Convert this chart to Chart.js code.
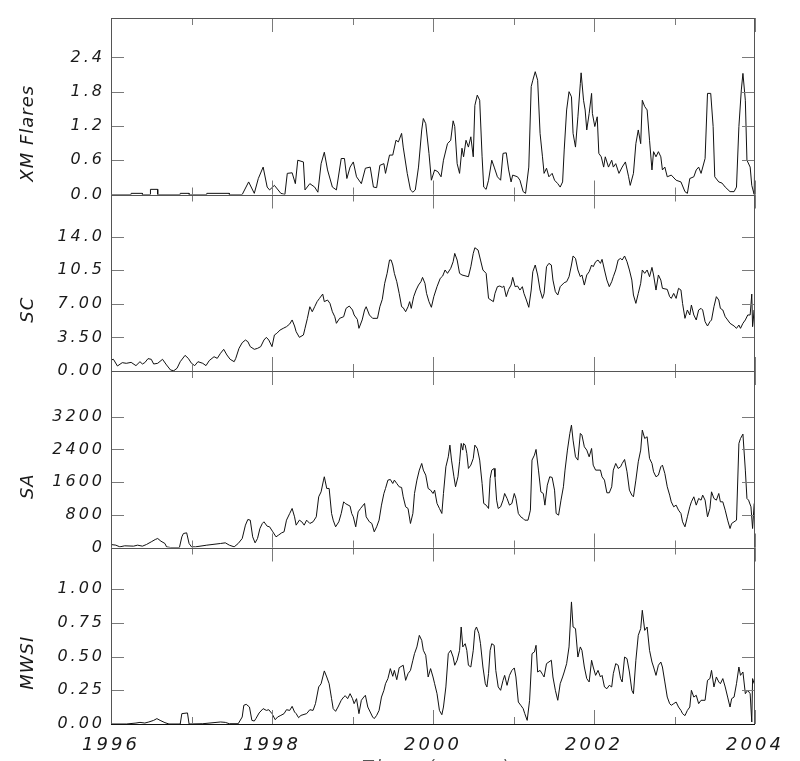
<!DOCTYPE html>
<html>
<head>
<meta charset="utf-8">
<title>XM flares, SC, SA and MWSI, 1996-2004</title>
<script src="https://cdn.jsdelivr.net/npm/chart.js@4.4.1/dist/chart.umd.min.js"></script>
<style>
  html, body { margin: 0; padding: 0; background: #fff; }
  canvas { display: block; }
</style>
</head>
<body>
<canvas id="chart" width="800" height="761"></canvas>
<script>
// shared time axis
const yearTicks = [1996, 1998, 2000, 2002, 2004];
const yearMarks = [1996, 1997, 1998, 1999, 2000, 2001, 2002, 2003, 2004];
const xTitle = 'Time (years)';

// XM flares
const xmYears = [
  1996.00, 1996.25, 1996.25, 1996.39, 1996.39, 1996.49, 1996.49, 1996.58, 1996.58, 1996.86,
  1996.86, 1996.97, 1996.97, 1997.19, 1997.19, 1997.47, 1997.47, 1997.63, 1997.71, 1997.78,
  1997.83, 1997.89, 1997.94, 1997.97, 1998.03, 1998.11, 1998.16, 1998.19, 1998.25, 1998.29,
  1998.32, 1998.39, 1998.41, 1998.47, 1998.53, 1998.57, 1998.61, 1998.65, 1998.69, 1998.75,
  1998.80, 1998.86, 1998.90, 1998.93, 1998.97, 1999.01, 1999.05, 1999.11, 1999.16, 1999.22,
  1999.26, 1999.30, 1999.34, 1999.39, 1999.41, 1999.46, 1999.50, 1999.54, 1999.57, 1999.61,
  1999.63, 1999.68, 1999.72, 1999.75, 1999.78, 1999.82, 1999.86, 1999.88, 1999.91, 1999.95,
  1999.98, 2000.02, 2000.06, 2000.10, 2000.13, 2000.18, 2000.22, 2000.25, 2000.27, 2000.30,
  2000.33, 2000.36, 2000.38, 2000.41, 2000.44, 2000.47, 2000.50, 2000.52, 2000.55, 2000.58,
  2000.61, 2000.63, 2000.66, 2000.69, 2000.73, 2000.76, 2000.80, 2000.84, 2000.87, 2000.91,
  2000.94, 2000.97, 2000.99, 2001.05, 2001.08, 2001.12, 2001.15, 2001.19, 2001.22, 2001.24,
  2001.27, 2001.30, 2001.33, 2001.36, 2001.38, 2001.41, 2001.44, 2001.48, 2001.51, 2001.55,
  2001.58, 2001.61, 2001.63, 2001.66, 2001.69, 2001.72, 2001.74, 2001.77, 2001.80, 2001.83,
  2001.84, 2001.87, 2001.89, 2001.91, 2001.94, 2001.97, 2001.98, 2002.01, 2002.04, 2002.06,
  2002.09, 2002.12, 2002.14, 2002.18, 2002.22, 2002.24, 2002.27, 2002.31, 2002.35, 2002.39,
  2002.43, 2002.45, 2002.49, 2002.52, 2002.55, 2002.58, 2002.60, 2002.63, 2002.66, 2002.69,
  2002.72, 2002.74, 2002.77, 2002.80, 2002.83, 2002.85, 2002.88, 2002.91, 2002.96, 2003.02,
  2003.08, 2003.13, 2003.16, 2003.19, 2003.24, 2003.27, 2003.30, 2003.33, 2003.38, 2003.41,
  2003.45, 2003.48, 2003.50, 2003.55, 2003.59, 2003.63, 2003.69, 2003.74, 2003.77, 2003.80,
  2003.83, 2003.85, 2003.88, 2003.90, 2003.94, 2003.96, 2003.99, 2004.00
];
const xmValues = [
  0, 0, 0.02, 0.02, 0, 0, 0.09, 0.09, 0, 0,
  0.02, 0.02, 0, 0, 0.02, 0.02, 0, 0, 0.22, 0.02,
  0.28, 0.48, 0.13, 0.08, 0.16, 0.02, 0, 0.37, 0.38, 0.19,
  0.60, 0.57, 0.08, 0.19, 0.13, 0.04, 0.54, 0.74, 0.43, 0.13,
  0.08, 0.63, 0.63, 0.28, 0.48, 0.57, 0.31, 0.19, 0.46, 0.48,
  0.13, 0.12, 0.51, 0.54, 0.37, 0.69, 0.69, 0.95, 0.92, 1.07,
  0.83, 0.37, 0.08, 0.04, 0.08, 0.48, 1.13, 1.33, 1.24, 0.72,
  0.25, 0.43, 0.40, 0.31, 0.60, 0.89, 0.95, 1.29, 1.19, 0.54,
  0.37, 0.81, 0.66, 0.95, 0.83, 1.01, 0.66, 1.56, 1.74, 1.65,
  0.66, 0.13, 0.09, 0.25, 0.60, 0.48, 0.31, 0.25, 0.72, 0.73,
  0.43, 0.22, 0.34, 0.31, 0.25, 0.05, 0.02, 0.48, 1.89, 2.00,
  2.15, 2.00, 1.07, 0.66, 0.37, 0.46, 0.31, 0.37, 0.25, 0.19,
  0.13, 0.22, 0.78, 1.48, 1.80, 1.71, 1.07, 0.83, 1.36, 1.94,
  2.13, 1.65, 1.48, 1.13, 1.42, 1.77, 1.42, 1.19, 1.36, 0.72,
  0.66, 0.48, 0.66, 0.48, 0.60, 0.48, 0.54, 0.37, 0.48, 0.57,
  0.31, 0.16, 0.37, 0.89, 1.13, 0.89, 1.65, 1.54, 1.48, 0.95,
  0.43, 0.75, 0.66, 0.75, 0.66, 0.43, 0.48, 0.31, 0.34, 0.25,
  0.22, 0.05, 0.02, 0.28, 0.31, 0.43, 0.48, 0.37, 0.63, 1.77,
  1.77, 1.19, 0.31, 0.22, 0.20, 0.13, 0.05, 0.05, 0.13, 1.19,
  1.83, 2.12, 1.65, 0.60, 0.48, 0.16, 0, 1.01
];
const xmTicks = [0, 0.6, 1.2, 1.8, 2.4];
const xmTickLabels = ['0.0', '0.6', '1.2', '1.8', '2.4'];
const xmMax = 3.09;

// SC
const scYears = [
  1996.00, 1996.03, 1996.08, 1996.14, 1996.19, 1996.25, 1996.31, 1996.36, 1996.39, 1996.42,
  1996.46, 1996.50, 1996.53, 1996.58, 1996.64, 1996.69, 1996.74, 1996.78, 1996.82, 1996.86,
  1996.92, 1996.96, 1997.00, 1997.04, 1997.08, 1997.14, 1997.18, 1997.22, 1997.28, 1997.32,
  1997.36, 1997.40, 1997.44, 1997.48, 1997.53, 1997.55, 1997.59, 1997.63, 1997.67, 1997.70,
  1997.73, 1997.78, 1997.82, 1997.86, 1997.90, 1997.93, 1997.96, 1998.00, 1998.03, 1998.06,
  1998.10, 1998.14, 1998.18, 1998.22, 1998.25, 1998.28, 1998.30, 1998.34, 1998.39, 1998.41,
  1998.44, 1998.47, 1998.50, 1998.53, 1998.56, 1998.59, 1998.63, 1998.65, 1998.69, 1998.72,
  1998.75, 1998.78, 1998.80, 1998.84, 1998.89, 1998.92, 1998.96, 1999.00, 1999.02, 1999.06,
  1999.08, 1999.12, 1999.15, 1999.17, 1999.21, 1999.25, 1999.31, 1999.34, 1999.37, 1999.40,
  1999.43, 1999.46, 1999.48, 1999.50, 1999.52, 1999.55, 1999.58, 1999.61, 1999.63, 1999.66,
  1999.69, 1999.71, 1999.73, 1999.76, 1999.79, 1999.82, 1999.85, 1999.87, 1999.90, 1999.92,
  1999.95, 1999.98, 2000.01, 2000.05, 2000.09, 2000.12, 2000.15, 2000.18, 2000.22, 2000.25,
  2000.27, 2000.30, 2000.33, 2000.36, 2000.44, 2000.47, 2000.50, 2000.52, 2000.56, 2000.59,
  2000.62, 2000.66, 2000.69, 2000.72, 2000.75, 2000.77, 2000.80, 2000.83, 2000.86, 2000.88,
  2000.91, 2000.94, 2000.97, 2000.99, 2001.02, 2001.05, 2001.08, 2001.11, 2001.13, 2001.16,
  2001.19, 2001.22, 2001.24, 2001.27, 2001.30, 2001.33, 2001.36, 2001.38, 2001.41, 2001.44,
  2001.47, 2001.49, 2001.52, 2001.55, 2001.58, 2001.63, 2001.66, 2001.69, 2001.72, 2001.74,
  2001.77, 2001.80, 2001.83, 2001.85, 2001.88, 2001.91, 2001.94, 2001.97, 2001.99, 2002.02,
  2002.05, 2002.08, 2002.10, 2002.13, 2002.16, 2002.19, 2002.22, 2002.24, 2002.27, 2002.30,
  2002.33, 2002.35, 2002.38, 2002.41, 2002.44, 2002.47, 2002.49, 2002.52, 2002.55, 2002.58,
  2002.60, 2002.63, 2002.66, 2002.69, 2002.72, 2002.74, 2002.77, 2002.80, 2002.83, 2002.85,
  2002.91, 2002.94, 2002.96, 2002.99, 2003.02, 2003.05, 2003.08, 2003.10, 2003.13, 2003.16,
  2003.19, 2003.21, 2003.24, 2003.27, 2003.30, 2003.33, 2003.35, 2003.38, 2003.41, 2003.44,
  2003.46, 2003.49, 2003.52, 2003.55, 2003.57, 2003.60, 2003.63, 2003.66, 2003.69, 2003.74,
  2003.77, 2003.80, 2003.82, 2003.85, 2003.88, 2003.91, 2003.94, 2003.96, 2003.97, 2003.99,
  2004.00
];
const scValues = [
  1.15, 1.22, 0.52, 0.87, 0.80, 0.90, 0.56, 0.97, 0.73, 0.87,
  1.29, 1.22, 0.73, 0.80, 1.22, 0.63, 0.10, 0.03, 0.28, 0.97,
  1.63, 1.32, 0.80, 0.56, 0.97, 0.80, 0.56, 1.08, 1.49, 1.32,
  1.84, 2.26, 1.67, 1.22, 0.97, 1.32, 2.36, 2.95, 3.23, 3.06,
  2.54, 2.26, 2.36, 2.54, 3.23, 3.51, 3.23, 2.54, 3.75, 3.93,
  4.27, 4.45, 4.62, 4.90, 5.32, 4.69, 4.10, 3.51, 3.75, 4.45,
  5.49, 6.70, 6.18, 6.70, 7.23, 7.57, 8.02, 7.23, 7.40, 7.05,
  6.18, 5.66, 4.97, 5.49, 5.66, 6.53, 6.77, 6.36, 5.84, 5.38,
  4.45, 5.32, 6.36, 6.70, 5.84, 5.49, 5.49, 6.70, 7.47, 9.14,
  10.18, 11.57, 11.57, 11.05, 10.18, 9.31, 8.09, 6.70, 6.60, 6.18,
  6.70, 7.23, 6.53, 7.75, 8.44, 8.96, 9.31, 9.76, 9.14, 8.09,
  7.23, 6.64, 7.75, 8.79, 9.66, 9.90, 10.53, 10.18, 10.70, 11.39,
  12.26, 11.57, 10.18, 10.01, 9.83, 10.87, 12.26, 12.85, 12.61, 11.57,
  10.53, 10.18, 7.57, 7.40, 7.23, 8.09, 8.79, 8.86, 8.72, 8.86,
  7.75, 8.51, 8.96, 9.76, 8.79, 8.86, 8.44, 8.79, 8.09, 7.40,
  6.64, 8.44, 10.35, 11.05, 10.01, 8.44, 7.57, 8.09, 10.87, 11.22,
  11.05, 9.48, 8.27, 7.92, 8.79, 9.21, 9.31, 9.83, 11.05, 11.99,
  11.74, 10.53, 9.83, 10.01, 8.96, 10.01, 10.35, 11.05, 10.87, 11.39,
  11.57, 11.22, 11.64, 10.53, 9.48, 8.79, 9.31, 9.83, 10.53, 11.57,
  11.74, 11.57, 11.99, 11.39, 10.53, 9.48, 7.92, 7.05, 8.09, 9.14,
  10.53, 10.18, 10.53, 9.83, 10.80, 10.01, 8.44, 10.01, 9.48, 8.62,
  8.51, 7.75, 7.57, 8.09, 7.57, 8.62, 8.44, 7.05, 5.49, 6.36,
  5.84, 6.88, 5.84, 5.32, 6.36, 6.53, 6.36, 5.14, 4.69, 5.14,
  5.32, 6.70, 7.75, 7.40, 6.53, 6.36, 5.66, 5.32, 4.97, 4.69,
  4.45, 4.79, 4.45, 4.97, 5.32, 5.84, 5.84, 8.02, 4.62, 6.36,
  1.84
];
const scTicks = [0, 3.5, 7, 10.5, 14];
const scTickLabels = ['0.00', '3.50', '7.00', '10.5', '14.0'];
const scMax = 18.4;

// SA
const saYears = [
  1996.00, 1996.06, 1996.11, 1996.17, 1996.28, 1996.33, 1996.39, 1996.44, 1996.50, 1996.55,
  1996.58, 1996.62, 1996.67, 1996.69, 1996.74, 1996.85, 1996.88, 1996.90, 1996.94, 1996.97,
  1997.00, 1997.05, 1997.19, 1997.36, 1997.42, 1997.47, 1997.53, 1997.58, 1997.63, 1997.67,
  1997.70, 1997.73, 1997.76, 1997.79, 1997.82, 1997.85, 1997.88, 1997.90, 1997.94, 1997.97,
  1998.01, 1998.05, 1998.08, 1998.12, 1998.15, 1998.18, 1998.22, 1998.25, 1998.28, 1998.30,
  1998.34, 1998.37, 1998.40, 1998.43, 1998.47, 1998.51, 1998.55, 1998.58, 1998.61, 1998.64,
  1998.65, 1998.68, 1998.71, 1998.74, 1998.76, 1998.79, 1998.83, 1998.86, 1998.89, 1998.91,
  1998.97, 1998.99, 1999.01, 1999.04, 1999.07, 1999.10, 1999.15, 1999.17, 1999.21, 1999.24,
  1999.27, 1999.30, 1999.33, 1999.36, 1999.39, 1999.41, 1999.44, 1999.47, 1999.50, 1999.52,
  1999.55, 1999.58, 1999.61, 1999.63, 1999.66, 1999.69, 1999.72, 1999.75, 1999.77, 1999.80,
  1999.83, 1999.86, 1999.88, 1999.91, 1999.94, 1999.97, 2000.00, 2000.02, 2000.05, 2000.08,
  2000.11, 2000.13, 2000.16, 2000.19, 2000.21, 2000.23, 2000.26, 2000.28, 2000.31, 2000.33,
  2000.35, 2000.37, 2000.38, 2000.40, 2000.42, 2000.44, 2000.47, 2000.50, 2000.52, 2000.55,
  2000.58, 2000.61, 2000.63, 2000.66, 2000.69, 2000.71, 2000.73, 2000.76, 2000.77, 2000.79,
  2000.81, 2000.84, 2000.87, 2000.89, 2000.92, 2000.95, 2000.98, 2001.01, 2001.03, 2001.06,
  2001.09, 2001.12, 2001.14, 2001.18, 2001.21, 2001.23, 2001.26, 2001.28, 2001.31, 2001.34,
  2001.37, 2001.39, 2001.42, 2001.45, 2001.48, 2001.51, 2001.53, 2001.56, 2001.59, 2001.62,
  2001.64, 2001.67, 2001.70, 2001.72, 2001.74, 2001.77, 2001.80, 2001.83, 2001.85, 2001.88,
  2001.91, 2001.94, 2001.97, 2001.99, 2002.02, 2002.08, 2002.10, 2002.13, 2002.16, 2002.19,
  2002.22, 2002.24, 2002.27, 2002.30, 2002.33, 2002.35, 2002.38, 2002.41, 2002.44, 2002.47,
  2002.49, 2002.52, 2002.55, 2002.58, 2002.60, 2002.63, 2002.66, 2002.69, 2002.72, 2002.74,
  2002.77, 2002.80, 2002.83, 2002.85, 2002.88, 2002.91, 2002.94, 2002.96, 2002.99, 2003.02,
  2003.05, 2003.08, 2003.10, 2003.13, 2003.16, 2003.19, 2003.21, 2003.24, 2003.27, 2003.30,
  2003.33, 2003.35, 2003.38, 2003.41, 2003.44, 2003.46, 2003.49, 2003.52, 2003.55, 2003.57,
  2003.60, 2003.63, 2003.66, 2003.69, 2003.71, 2003.77, 2003.80, 2003.82, 2003.85, 2003.88,
  2003.90, 2003.92, 2003.95, 2003.97, 2003.99
];
const saValues = [
  73, 57, 16, 41, 33, 57, 33, 73, 139, 196,
  220, 155, 98, 16, 0, 0, 261, 343, 359, 98,
  16, 16, 57, 98, 114, 57, 16, 98, 220, 547,
  686, 669, 261, 114, 220, 465, 588, 629, 522, 506,
  384, 261, 302, 359, 384, 669, 833, 955, 751, 547,
  669, 629, 547, 669, 588, 629, 751, 1241, 1363, 1649,
  1731, 1445, 1445, 833, 669, 506, 629, 833, 1118, 1078,
  1012, 833, 751, 506, 873, 955, 1078, 751, 629, 588,
  384, 506, 669, 1037, 1322, 1445, 1649, 1665, 1567, 1649,
  1567, 1486, 1469, 1241, 996, 955, 588, 833, 1322, 1649,
  1894, 2057, 1894, 1771, 1445, 1404, 1322, 1404, 1078, 955,
  833, 1322, 1975, 2220, 2506, 2139, 1731, 1486, 1731, 2098,
  2547, 2384, 2547, 2506, 2302, 1935, 2016, 2180, 2506, 2424,
  2139, 1567, 1078, 1037, 955, 1690, 1894, 1935, 1731, 1159,
  955, 996, 1159, 1322, 1200, 1037, 1078, 1322, 1200, 833,
  751, 710, 669, 669, 914, 2139, 2261, 2400, 1894, 1363,
  1322, 1037, 1526, 1731, 1714, 1404, 833, 792, 1159, 1486,
  1894, 2384, 2792, 2996, 2628, 2220, 2139, 2792, 2751, 2465,
  2384, 2220, 2424, 2016, 1894, 1894, 1731, 1649, 1339, 1339,
  1486, 1894, 2057, 1935, 1975, 2057, 2155, 1853, 1404, 1282,
  1241, 1649, 2098, 2384, 2873, 2669, 2710, 2180, 2057, 1853,
  1731, 1771, 1975, 2016, 1812, 1486, 1282, 1118, 996, 1037,
  914, 833, 629, 506, 751, 996, 1118, 1241, 1037, 1200,
  1159, 1282, 1159, 751, 955, 1363, 1200, 1159, 1322, 1118,
  1118, 914, 669, 465, 588, 669, 2547, 2669, 2775, 1894,
  1200, 1159, 996, 465, 1078
];
const saTicks = [0, 800, 1600, 2400, 3200];
const saTickLabels = ['0', '800', '1600', '2400', '3200'];
const saMax = 4320;

// MWSI
const mwYears = [
  1996.00, 1996.19, 1996.31, 1996.36, 1996.42, 1996.47, 1996.53, 1996.57, 1996.61, 1996.67,
  1996.72, 1996.86, 1996.88, 1996.95, 1996.97, 1997.14, 1997.36, 1997.42, 1997.47, 1997.58,
  1997.63, 1997.65, 1997.68, 1997.72, 1997.75, 1997.78, 1997.80, 1997.84, 1997.89, 1997.93,
  1997.96, 1998.00, 1998.04, 1998.07, 1998.11, 1998.15, 1998.18, 1998.22, 1998.25, 1998.28,
  1998.30, 1998.33, 1998.36, 1998.43, 1998.47, 1998.51, 1998.54, 1998.58, 1998.61, 1998.65,
  1998.68, 1998.71, 1998.74, 1998.76, 1998.79, 1998.82, 1998.86, 1998.89, 1998.91, 1998.94,
  1998.97, 1999.00, 1999.02, 1999.05, 1999.08, 1999.11, 1999.14, 1999.16, 1999.19, 1999.22,
  1999.25, 1999.27, 1999.30, 1999.33, 1999.36, 1999.39, 1999.41, 1999.44, 1999.47, 1999.50,
  1999.52, 1999.55, 1999.58, 1999.63, 1999.66, 1999.69, 1999.72, 1999.75, 1999.77, 1999.80,
  1999.83, 1999.86, 1999.88, 1999.91, 1999.94, 1999.97, 2000.00, 2000.02, 2000.05, 2000.08,
  2000.11, 2000.13, 2000.16, 2000.19, 2000.22, 2000.25, 2000.27, 2000.30, 2000.33, 2000.35,
  2000.37, 2000.40, 2000.42, 2000.44, 2000.47, 2000.50, 2000.52, 2000.54, 2000.57, 2000.59,
  2000.62, 2000.65, 2000.67, 2000.69, 2000.71, 2000.73, 2000.76, 2000.78, 2000.81, 2000.84,
  2000.87, 2000.89, 2000.92, 2000.95, 2000.98, 2001.01, 2001.03, 2001.06, 2001.09, 2001.12,
  2001.14, 2001.17, 2001.20, 2001.23, 2001.26, 2001.28, 2001.30, 2001.33, 2001.36, 2001.38,
  2001.41, 2001.47, 2001.49, 2001.52, 2001.55, 2001.58, 2001.61, 2001.63, 2001.66, 2001.69,
  2001.72, 2001.74, 2001.77, 2001.80, 2001.83, 2001.85, 2001.88, 2001.91, 2001.94, 2001.97,
  2001.99, 2002.02, 2002.05, 2002.08, 2002.10, 2002.13, 2002.16, 2002.19, 2002.22, 2002.24,
  2002.27, 2002.30, 2002.33, 2002.35, 2002.38, 2002.41, 2002.44, 2002.47, 2002.49, 2002.52,
  2002.55, 2002.58, 2002.60, 2002.63, 2002.66, 2002.69, 2002.72, 2002.74, 2002.77, 2002.80,
  2002.83, 2002.85, 2002.88, 2002.91, 2002.94, 2002.96, 2002.99, 2003.02, 2003.05, 2003.08,
  2003.10, 2003.13, 2003.16, 2003.19, 2003.21, 2003.24, 2003.27, 2003.30, 2003.33, 2003.38,
  2003.41, 2003.44, 2003.46, 2003.49, 2003.52, 2003.55, 2003.57, 2003.60, 2003.63, 2003.66,
  2003.69, 2003.71, 2003.74, 2003.77, 2003.80, 2003.82, 2003.85, 2003.88, 2003.91, 2003.94,
  2003.96, 2003.97, 2003.99
];
const mwValues = [
  0, 0, 0.007, 0.012, 0.007, 0.015, 0.027, 0.040, 0.027, 0.010,
  0, 0, 0.077, 0.082, 0, 0.002, 0.015, 0.012, 0.002, 0.002,
  0.052, 0.139, 0.146, 0.126, 0.027, 0.022, 0.040, 0.082, 0.114, 0.101,
  0.106, 0.077, 0.032, 0.052, 0.064, 0.077, 0.106, 0.101, 0.131, 0.089,
  0.077, 0.047, 0.064, 0.077, 0.106, 0.101, 0.151, 0.275, 0.299, 0.394,
  0.349, 0.299, 0.188, 0.114, 0.094, 0.126, 0.176, 0.200, 0.210, 0.188,
  0.225, 0.188, 0.151, 0.188, 0.077, 0.176, 0.200, 0.213, 0.126, 0.089,
  0.052, 0.040, 0.064, 0.101, 0.200, 0.250, 0.299, 0.337, 0.411, 0.354,
  0.398, 0.329, 0.418, 0.436, 0.324, 0.374, 0.398, 0.473, 0.522, 0.572,
  0.658, 0.621, 0.547, 0.510, 0.349, 0.411, 0.349, 0.299, 0.225, 0.101,
  0.069, 0.126, 0.275, 0.522, 0.547, 0.497, 0.436, 0.473, 0.547, 0.720,
  0.572, 0.596, 0.547, 0.436, 0.423, 0.547, 0.695, 0.720, 0.671, 0.596,
  0.423, 0.299, 0.275, 0.374, 0.547, 0.596, 0.584, 0.398, 0.275, 0.250,
  0.324, 0.361, 0.287, 0.361, 0.398, 0.416, 0.349, 0.163, 0.139, 0.114,
  0.077, 0.027, 0.176, 0.522, 0.535, 0.584, 0.386, 0.398, 0.369, 0.349,
  0.448, 0.473, 0.349, 0.250, 0.176, 0.299, 0.349, 0.386, 0.448, 0.572,
  0.906, 0.720, 0.708, 0.497, 0.572, 0.547, 0.423, 0.337, 0.312, 0.473,
  0.423, 0.361, 0.398, 0.349, 0.361, 0.275, 0.262, 0.287, 0.275, 0.374,
  0.448, 0.436, 0.337, 0.312, 0.497, 0.485, 0.386, 0.250, 0.225, 0.473,
  0.658, 0.708, 0.844, 0.695, 0.720, 0.547, 0.460, 0.423, 0.361, 0.436,
  0.460, 0.423, 0.312, 0.200, 0.151, 0.139, 0.151, 0.163, 0.126, 0.101,
  0.077, 0.062, 0.101, 0.126, 0.250, 0.200, 0.213, 0.151, 0.176, 0.176,
  0.324, 0.337, 0.398, 0.275, 0.349, 0.312, 0.299, 0.337, 0.275, 0.200,
  0.126, 0.188, 0.200, 0.299, 0.423, 0.361, 0.386, 0.225, 0.250, 0.225,
  0.015, 0.337, 0.299
];
const mwTicks = [0, 0.25, 0.5, 0.75, 1.0];
const mwTickLabels = ['0.00', '0.25', '0.50', '0.75', '1.00'];
const mwMax = 1.31;

// panels, top to bottom
const panels = [
  { id: 'yXM', title: 'XM Flares', years: xmYears, values: xmValues, ticks: xmTicks, labels: xmTickLabels, max: xmMax },
  { id: 'ySC', title: 'SC', years: scYears, values: scValues, ticks: scTicks, labels: scTickLabels, max: scMax },
  { id: 'ySA', title: 'SA', years: saYears, values: saValues, ticks: saTicks, labels: saTickLabels, max: saMax },
  { id: 'yMW', title: 'MWSI', years: mwYears, values: mwValues, ticks: mwTicks, labels: mwTickLabels, max: mwMax }
];

const FONT = '"DejaVu Sans", "Liberation Sans", sans-serif';
const INK = '#1a1a1a';

Chart.defaults.font.family = FONT;
Chart.defaults.font.style = 'italic';
Chart.defaults.color = INK;

// wide Hershey-like spacing for all axis text
const spacing = {
  id: 'spacing',
  beforeDraw(chart) { chart.ctx.letterSpacing = '3px'; }
};

// boxes round each panel, with inward ticks on all four sides
const frames = {
  id: 'frames',
  afterDatasetsDraw(chart) {
    const ctx = chart.ctx;
    const x = chart.scales.x;
    const left = chart.chartArea.left, right = chart.chartArea.right;
    ctx.save();
    panels.forEach(p => {
      const s = chart.scales[p.id];
      const top = s.top, bottom = s.bottom;
      ctx.beginPath();
      ctx.strokeStyle = '#7a7a7a';
      ctx.lineWidth = 1;
      p.ticks.forEach(v => {
        const py = Math.round(s.getPixelForValue(v)) + 0.5;
        ctx.moveTo(left, py); ctx.lineTo(left + 13, py);
        ctx.moveTo(right, py); ctx.lineTo(right - 13, py);
      });
      yearMarks.forEach(yr => {
        const px = Math.round(x.getPixelForValue(yr)) + 0.5;
        const len = yr % 2 === 0 ? 14 : 7;
        ctx.moveTo(px, top); ctx.lineTo(px, top + len);
        ctx.moveTo(px, bottom); ctx.lineTo(px, bottom - len);
      });
      ctx.stroke();

      ctx.beginPath();
      ctx.strokeStyle = '#555';
      ctx.moveTo(left + 0.5, top); ctx.lineTo(left + 0.5, bottom);
      ctx.moveTo(right - 0.5, top); ctx.lineTo(right - 0.5, bottom);
      ctx.moveTo(left, Math.round(top) + 0.5); ctx.lineTo(right, Math.round(top) + 0.5);
      ctx.stroke();

      ctx.beginPath();
      ctx.strokeStyle = '#111';
      ctx.moveTo(left, Math.round(bottom) + 0.5); ctx.lineTo(right, Math.round(bottom) + 0.5);
      ctx.stroke();
    });
    ctx.restore();
  },
  afterDraw(chart) {
    const ctx = chart.ctx;
    ctx.save();
    ctx.fillStyle = INK;
    ctx.font = 'italic 18px ' + FONT;
    ctx.letterSpacing = '1px';
    ctx.textAlign = 'center';
    ctx.textBaseline = 'middle';
    panels.forEach(p => {
      const s = chart.scales[p.id];
      ctx.save();
      ctx.translate(28, (s.top + s.bottom) / 2 + 27);
      ctx.rotate(-Math.PI / 2);
      ctx.fillText(p.title, 0, 0);
      ctx.restore();
    });
    // x title, mostly below the bottom edge of the page
    const area = chart.chartArea;
    ctx.letterSpacing = '3px';
    ctx.fillStyle = '#555';
    ctx.textBaseline = 'alphabetic';
    ctx.fillText(xTitle, (area.left + area.right) / 2 + 4, 773);
    ctx.restore();
  }
};

const scales = {
  x: {
    type: 'linear',
    position: 'bottom',
    min: 1996,
    max: 2004,
    grid: { display: false, drawTicks: false },
    border: { display: false },
    afterBuildTicks: s => { s.ticks = yearTicks.map(v => ({ value: v })); },
    afterFit: s => { s.height = 37; },
    ticks: { padding: 11, autoSkip: false, maxRotation: 0, font: { size: 18 }, callback: v => String(v) }
  }
};
panels.forEach((p, i) => {
  scales[p.id] = {
    type: 'linear',
    position: 'left',
    stack: 'panels',
    stackWeight: 1,
    weight: panels.length - i,
    min: 0,
    max: p.max,
    grid: { display: false, drawTicks: false },
    border: { display: false },
    afterBuildTicks: s => { s.ticks = p.ticks.map(v => ({ value: v })); },
    afterFit: s => { s.width = 111; },
    ticks: { padding: 6, autoSkip: false, font: { size: 16 }, callback: (v, idx) => p.labels[idx] }
  };
});

new Chart(document.getElementById('chart'), {
  type: 'line',
  data: {
    datasets: panels.map(p => ({
      label: p.title,
      data: p.years.map((t, k) => ({ x: t, y: p.values[k] })),
      xAxisID: 'x',
      yAxisID: p.id,
      borderColor: '#111',
      borderWidth: 1,
      pointRadius: 0,
      tension: 0,
      fill: false
    }))
  },
  options: {
    responsive: false,
    animation: false,
    devicePixelRatio: 1,
    layout: { padding: { left: 0, right: 45, top: 18, bottom: 0 } },
    plugins: { legend: { display: false }, tooltip: { enabled: false } },
    scales: scales
  },
  plugins: [spacing, frames]
});
</script>
</body>
</html>
